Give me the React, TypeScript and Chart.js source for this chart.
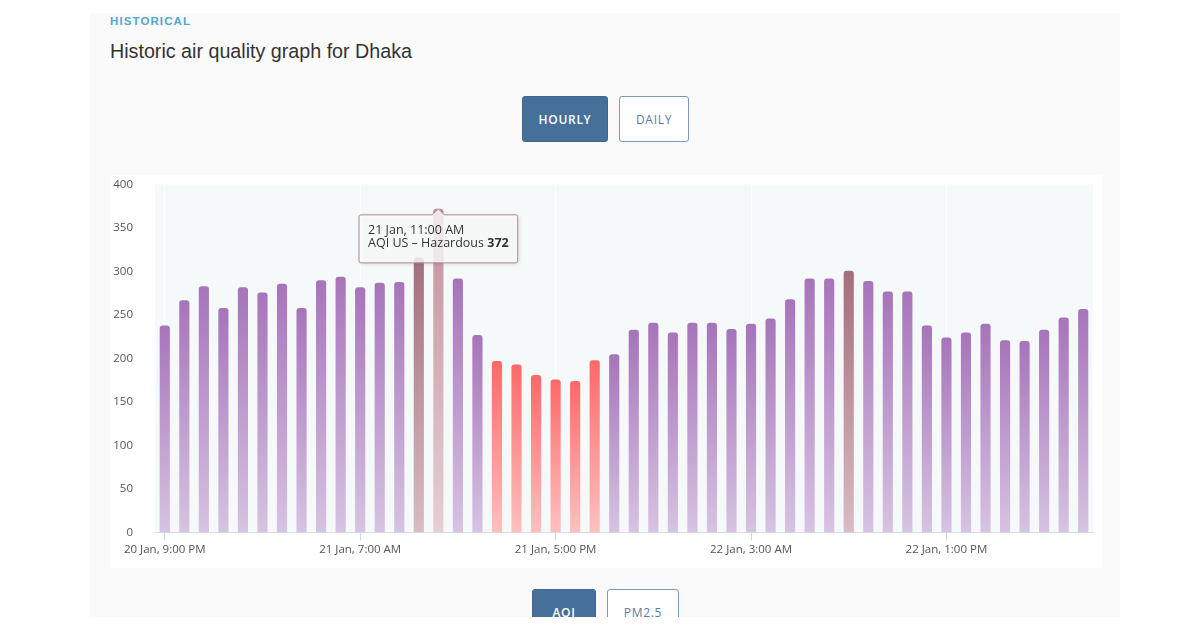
import React, { useEffect, useRef } from "react";
import { Chart, registerables } from "chart.js";

Chart.register(...registerables);

// ---------- DATA ----------
const hourLabels: string[] = [
  "20 Jan, 9:00 PM", "20 Jan, 10:00 PM", "20 Jan, 11:00 PM",
  "21 Jan, 12:00 AM", "21 Jan, 1:00 AM", "21 Jan, 2:00 AM", "21 Jan, 3:00 AM",
  "21 Jan, 4:00 AM", "21 Jan, 5:00 AM", "21 Jan, 6:00 AM", "21 Jan, 7:00 AM",
  "21 Jan, 8:00 AM", "21 Jan, 9:00 AM", "21 Jan, 10:00 AM", "21 Jan, 11:00 AM",
  "21 Jan, 12:00 PM", "21 Jan, 1:00 PM", "21 Jan, 2:00 PM", "21 Jan, 3:00 PM",
  "21 Jan, 4:00 PM", "21 Jan, 5:00 PM", "21 Jan, 6:00 PM", "21 Jan, 7:00 PM",
  "21 Jan, 8:00 PM", "21 Jan, 9:00 PM", "21 Jan, 10:00 PM", "21 Jan, 11:00 PM",
  "22 Jan, 12:00 AM", "22 Jan, 1:00 AM", "22 Jan, 2:00 AM", "22 Jan, 3:00 AM",
  "22 Jan, 4:00 AM", "22 Jan, 5:00 AM", "22 Jan, 6:00 AM", "22 Jan, 7:00 AM",
  "22 Jan, 8:00 AM", "22 Jan, 9:00 AM", "22 Jan, 10:00 AM", "22 Jan, 11:00 AM",
  "22 Jan, 12:00 PM", "22 Jan, 1:00 PM", "22 Jan, 2:00 PM", "22 Jan, 3:00 PM",
  "22 Jan, 4:00 PM", "22 Jan, 5:00 PM", "22 Jan, 6:00 PM", "22 Jan, 7:00 PM",
  "22 Jan, 8:00 PM",
];

const aqiValues: number[] = [
  238, 267, 283, 258, 282, 276, 286, 258, 290, 294, 282, 287, 288, 316, 372, 292,
  227, 197, 193, 181, 176, 174, 198, 205, 233, 241, 230, 241, 241, 234, 240, 246,
  268, 292, 292, 301, 289, 277, 277, 238, 224, 230, 240, 221, 220, 233, 247, 257,
];

const yMax = 400;
const yStep = 50;
const labelEvery = 10;
const tooltipIndex = 14;
const tooltipSeries = "AQI US \u2013 Hazardous";

// ---------- STYLE ----------
const levelColors: Record<string, [string, string]> = {
  unhealthy: ["#ff6868", "#ffc0c0"],
  veryUnhealthy: ["#a674ba", "#d7c3e2"],
  hazardous: ["#a46e7c", "#d9bcc4"],
  hovered: ["#c5909c", "#e6cfd5"],
};

function levelOf(v: number): string {
  if (v > 300) return "hazardous";
  if (v > 200) return "veryUnhealthy";
  return "unhealthy";
}

const plotBgPlugin = {
  id: "plotBg",
  beforeDraw(chart: any) {
    const { ctx, chartArea } = chart;
    if (!chartArea) return;
    ctx.save();
    ctx.fillStyle = "#f5f9fa";
    ctx.fillRect(chartArea.left, chartArea.top, chartArea.right - chartArea.left, chartArea.bottom - chartArea.top);
    ctx.restore();
  },
};

const fixedTooltipPlugin = {
  id: "fixedTooltip",
  afterDraw(chart: any) {
    const meta = chart.getDatasetMeta(0);
    const el = meta.data[tooltipIndex];
    if (!el) return;
    const ctx = chart.ctx as CanvasRenderingContext2D;
    const title = hourLabels[tooltipIndex];
    const valueText = String(aqiValues[tooltipIndex]);
    const fontSize = 12.5;
    const normal = `${fontSize}px "Open Sans", sans-serif`;
    const bold = `bold ${fontSize}px "Open Sans", sans-serif`;
    ctx.save();
    ctx.font = normal;
    const w1 = ctx.measureText(title).width;
    const prefix = tooltipSeries + " ";
    const wPrefix = ctx.measureText(prefix).width;
    ctx.font = bold;
    const wVal = ctx.measureText(valueText).width;
    const padX = 9;
    const boxW = Math.max(w1, wPrefix + wVal) + padX * 2;
    const boxH = 48;
    const caretH = 6;
    const caretW = 6;
    const r = 2;
    const tipX = el.x;
    const tipY = el.y;
    const x = tipX - boxW / 2;
    const y = tipY + caretH;

    ctx.beginPath();
    ctx.moveTo(x + r, y);
    ctx.lineTo(tipX - caretW, y);
    ctx.lineTo(tipX, tipY);
    ctx.lineTo(tipX + caretW, y);
    ctx.lineTo(x + boxW - r, y);
    ctx.quadraticCurveTo(x + boxW, y, x + boxW, y + r);
    ctx.lineTo(x + boxW, y + boxH - r);
    ctx.quadraticCurveTo(x + boxW, y + boxH, x + boxW - r, y + boxH);
    ctx.lineTo(x + r, y + boxH);
    ctx.quadraticCurveTo(x, y + boxH, x, y + boxH - r);
    ctx.lineTo(x, y + r);
    ctx.quadraticCurveTo(x, y, x + r, y);
    ctx.closePath();
    ctx.shadowColor = "rgba(0,0,0,0.18)";
    ctx.shadowBlur = 4;
    ctx.shadowOffsetX = 1;
    ctx.shadowOffsetY = 1;
    ctx.fillStyle = "rgba(255,255,255,0.8)";
    ctx.fill();
    ctx.shadowColor = "transparent";
    ctx.lineWidth = 1;
    ctx.strokeStyle = "#b08a95";
    ctx.stroke();

    ctx.fillStyle = "#333";
    ctx.textBaseline = "middle";
    ctx.textAlign = "left";
    ctx.font = normal;
    ctx.fillText(title, x + padX, y + 15.5);
    ctx.fillText(prefix, x + padX, y + 29);
    ctx.font = bold;
    ctx.fillText(valueText, x + padX + wPrefix, y + 29);
    ctx.restore();
  },
};

function barColor(c: any) {
  const i = c.dataIndex;
  const v = aqiValues[i];
  const key = i === tooltipIndex ? "hovered" : levelOf(v);
  const [top, bottom] = levelColors[key];
  const chart = c.chart;
  const area = chart.chartArea;
  const ys = chart.scales && chart.scales.y;
  if (!area || !ys) return top;
  const yTop = ys.getPixelForValue(v);
  const g = chart.ctx.createLinearGradient(0, yTop, 0, area.bottom);
  g.addColorStop(0, top);
  g.addColorStop(1, bottom);
  return g;
}

function AqiChart() {
  const ref = useRef<HTMLCanvasElement | null>(null);
  useEffect(() => {
    if (!ref.current) return;
    Chart.defaults.font.family = '"Open Sans", sans-serif';
    const chart = new Chart(ref.current, {
      type: "bar",
      data: {
        labels: hourLabels,
        datasets: [
          {
            label: "AQI US",
            data: aqiValues,
            backgroundColor: barColor as any,
            borderRadius: 3,
            borderSkipped: "bottom",
            barPercentage: 0.52,
            categoryPercentage: 1,
          },
        ],
      },
      options: {
        responsive: false,
        animation: false,
        events: [],
        layout: { padding: { top: 9.5, right: 9, left: 0, bottom: 0 } },
        plugins: { legend: { display: false }, tooltip: { enabled: false } },
        scales: {
          x: {
            offset: true,
            grid: {
              offset: false,
              color: "#ffffff",
              lineWidth: 1,
              tickColor: "#cfd8e8",
              tickLength: 8,
              drawTicks: true,
            },
            border: { color: "#d6deeb", width: 1 },
            ticks: {
              autoSkip: false,
              maxRotation: 0,
              minRotation: 0,
              padding: 2,
              color: "#555",
              font: { size: 11.5 },
              callback: (_v: any, i: number) => (i % labelEvery === 0 ? hourLabels[i] : null),
            },
            afterFit: (s: any) => {
              s.height = 35.5;
              s.paddingLeft = 0;
              s.paddingRight = 0;
            },
          },
          y: {
            min: 0,
            max: yMax,
            grid: { display: false },
            border: { display: false },
            ticks: {
              stepSize: yStep,
              padding: 14,
              color: "#555",
              font: { size: 11.5 },
            },
            afterFit: (s: any) => {
              s.width = 45;
              s.paddingTop = 0;
              s.paddingBottom = 0;
            },
          },
        },
      },
      plugins: [plotBgPlugin, fixedTooltipPlugin],
    });
    return () => chart.destroy();
  }, []);
  return <canvas ref={ref} width={992} height={393} style={{ display: "block", width: 992, height: 393 }} />;
}

const btnBase: React.CSSProperties = {
  position: "absolute",
  boxSizing: "border-box",
  display: "flex",
  alignItems: "center",
  justifyContent: "center",
  borderRadius: 3,
  fontFamily: '"Open Sans", sans-serif',
  fontSize: 12,
  letterSpacing: 0.7,
};
const btnActive: React.CSSProperties = {
  ...btnBase,
  background: "#46709a",
  color: "#fff",
  fontWeight: 600,
  border: "1px solid #3f6690",
};
const btnIdle: React.CSSProperties = {
  ...btnBase,
  background: "#fff",
  color: "#5a7da1",
  border: "1.5px solid #7d9cbb",
};

export default function App() {
  return (
    <div
      style={{
        position: "relative",
        margin: -8,
        width: 1200,
        height: 625,
        overflow: "hidden",
        background: "#fff",
        fontFamily: '"Liberation Sans", Arial, sans-serif',
      }}
    >
      <div
        style={{
          position: "absolute",
          left: 559,
          top: -10,
          width: 348,
          height: 13,
          background: "#f3f3f3",
          borderRadius: 4,
          boxShadow: "0 1px 2px rgba(0,0,0,0.06)",
        }}
      />
      <div style={{ position: "absolute", left: 90, top: 13, width: 1030, height: 640, background: "#fafafa" }} />
      <div
        style={{
          position: "absolute",
          left: 110,
          top: 14,
          fontSize: 11.5,
          fontWeight: 700,
          letterSpacing: 1.1,
          color: "#52a7cc",
          lineHeight: "14px",
        }}
      >
        HISTORICAL
      </div>
      <div
        style={{
          position: "absolute",
          left: 110,
          top: 40,
          fontSize: 19.7,
          color: "#333",
          whiteSpace: "nowrap",
        }}
      >
        Historic air quality graph for Dhaka
      </div>
      <div style={{ ...btnActive, left: 522, top: 96, width: 86, height: 46 }}>HOURLY</div>
      <div style={{ ...btnIdle, left: 619, top: 96, width: 70, height: 46 }}>DAILY</div>

      <div style={{ position: "absolute", left: 110, top: 175, width: 992, height: 393, background: "#fff" }}>
        <AqiChart />
      </div>

      <div style={{ ...btnActive, left: 532, top: 589, width: 64, height: 46 }}>AQI</div>
      <div style={{ ...btnIdle, left: 607, top: 589, width: 72, height: 46 }}>PM2.5</div>
    </div>
  );
}
